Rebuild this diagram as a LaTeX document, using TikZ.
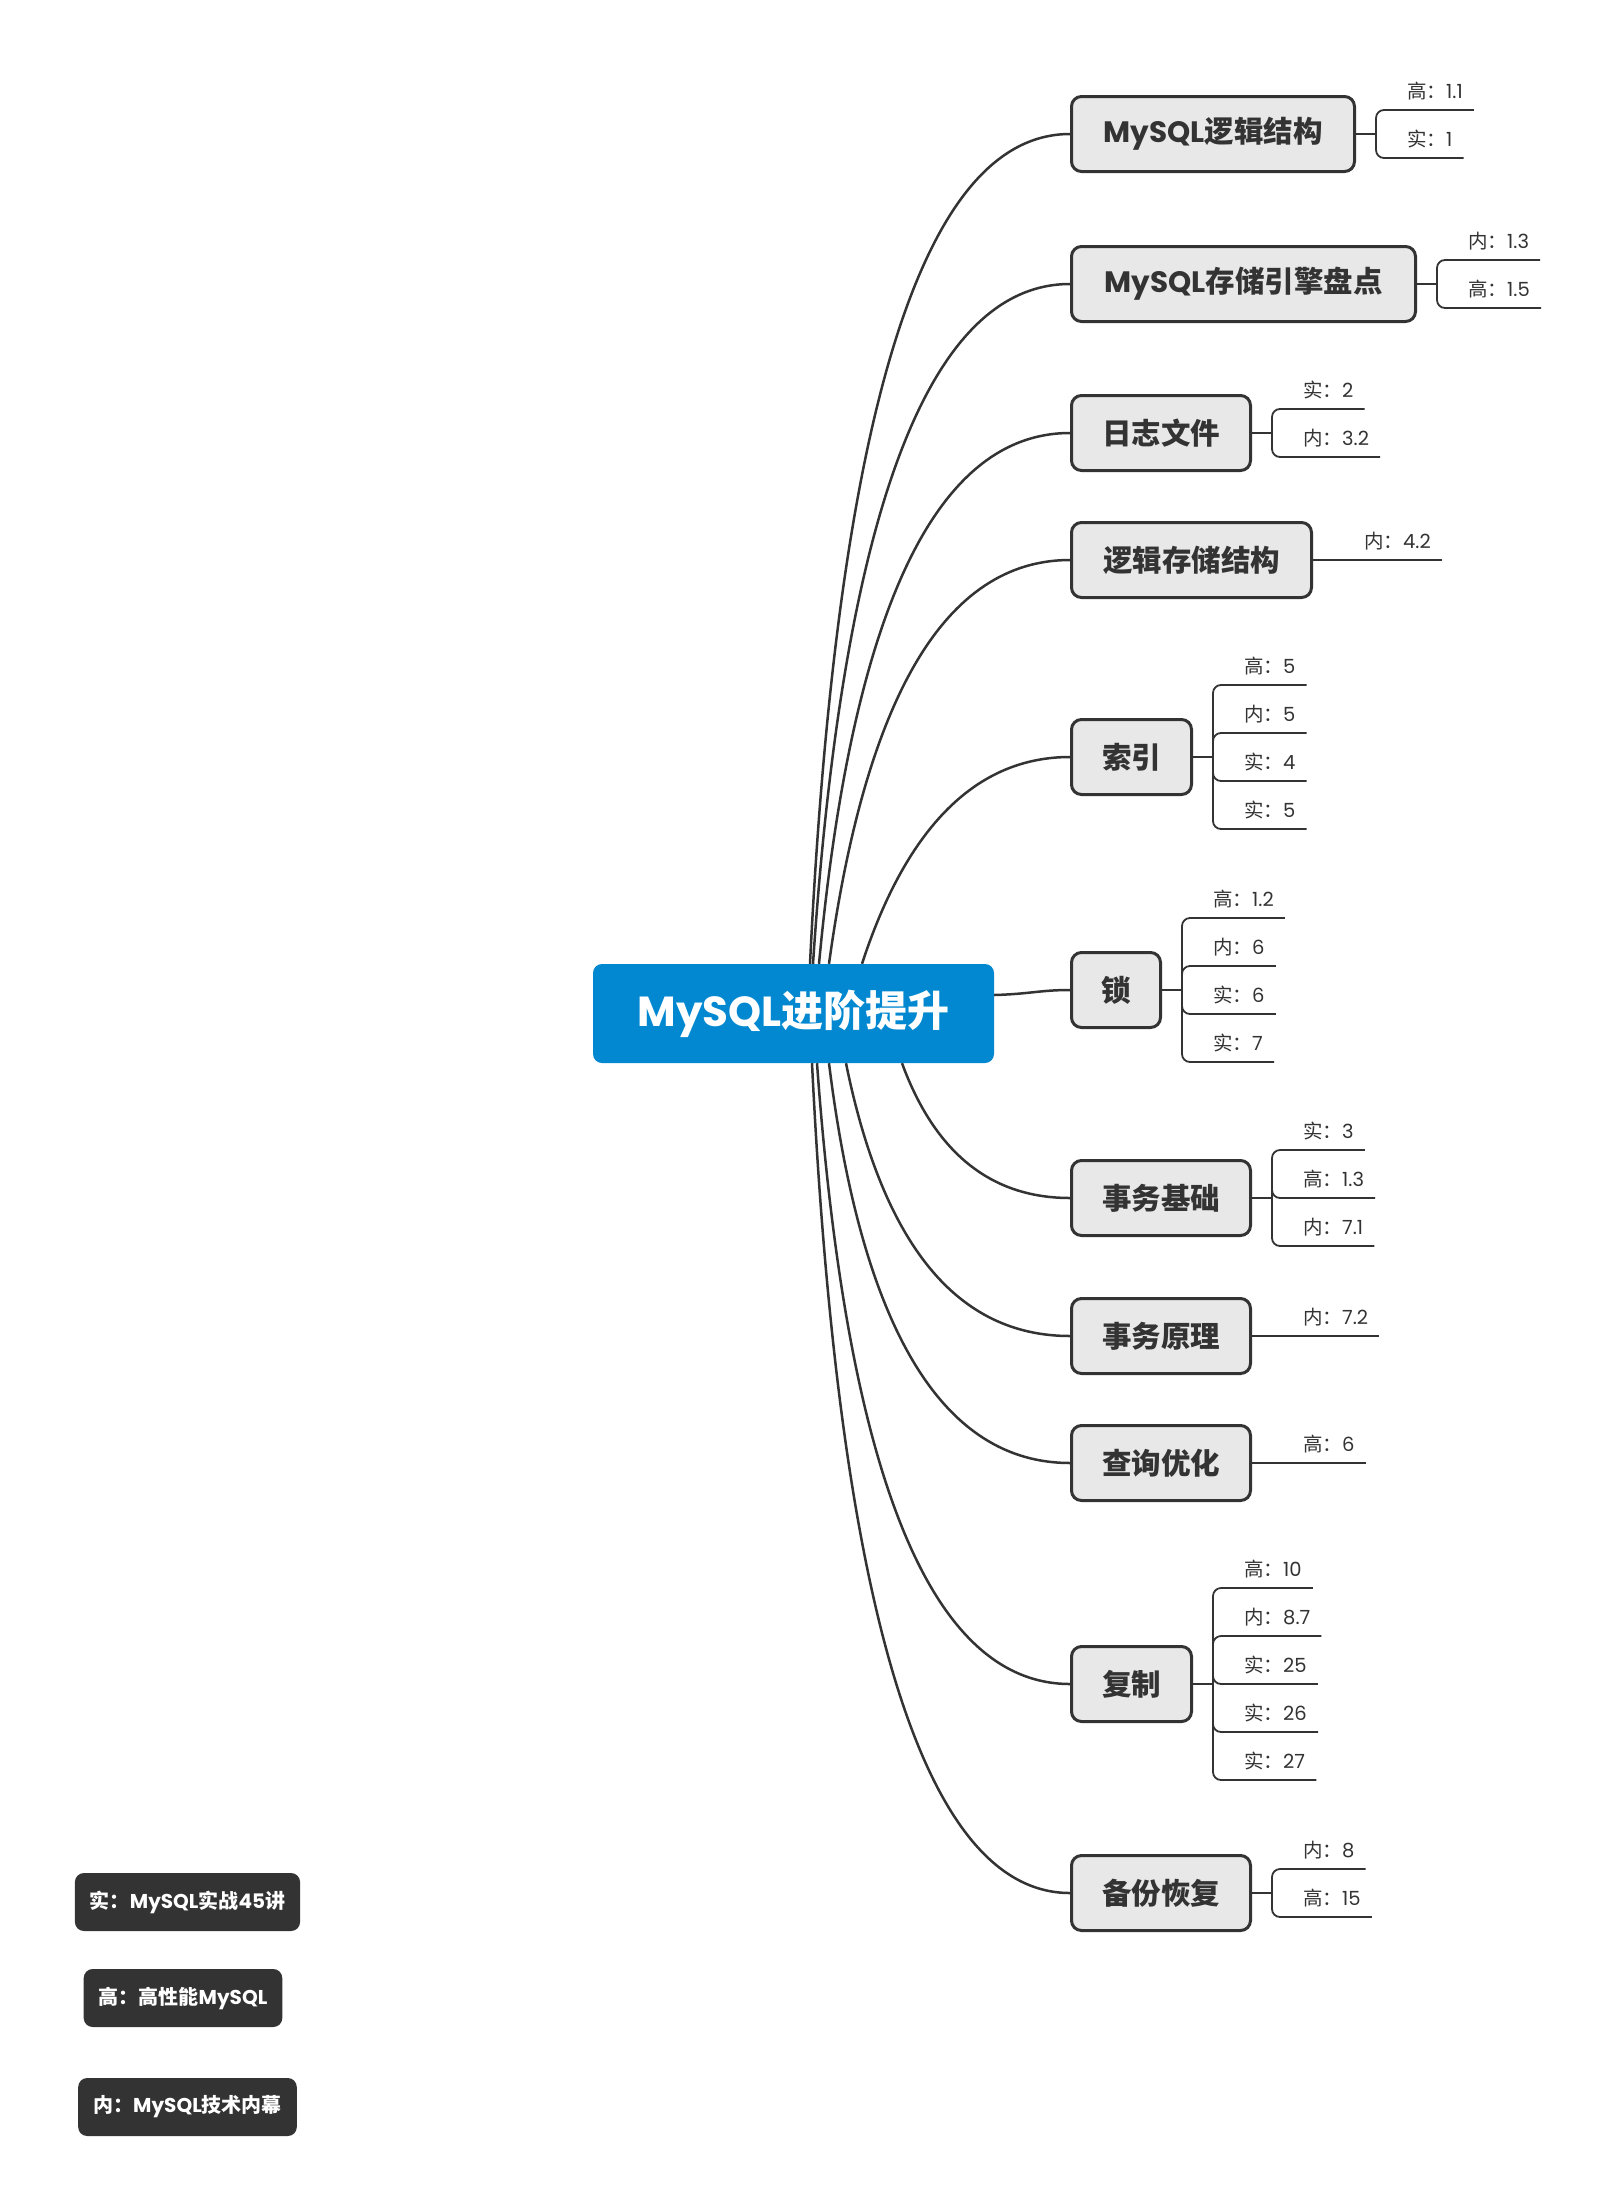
\documentclass[tikz,border=0pt]{standalone}
\usepackage{fontspec}
\setmainfont{Noto Sans CJK SC}
\newfontfamily\enfont{Poppins}
\usetikzlibrary{positioning}
\definecolor{rootblue}{HTML}{0288D1}
\definecolor{ink}{HTML}{333333}
\definecolor{boxgray}{HTML}{E8E8E8}
\tikzset{
  root/.style={fill=rootblue, text=white, rounded corners=9pt, minimum width=401pt, minimum height=99pt, font=\fontsize{42}{50}\selectfont\bfseries},
  topic/.style={draw=ink, fill=boxgray, line width=3pt, rounded corners=10pt, text=ink, anchor=west, minimum height=75pt, inner xsep=20pt, font=\fontsize{29.5}{35}\selectfont\bfseries},
  leaf/.style={text=ink, inner xsep=11pt, inner ysep=0pt, text height=16pt, text depth=11pt, font=\fontsize{19.5}{23}\selectfont},
  link/.style={draw=ink, line width=2.5pt},
  twig/.style={draw=ink, line width=1.8pt, rounded corners=8pt},
  legend/.style={fill=ink, text=white, rounded corners=9pt, minimum height=58pt, inner xsep=15pt, font=\fontsize{20}{24}\selectfont\bfseries},
}

\begin{document}
\begin{tikzpicture}[x=1pt, y=-1pt]
		\fill[white] (0,0) rectangle (1614,2211);
		\useasboundingbox (0,0) rectangle (1614,2211);

		\node[root] (root) at (793.5,1013.5) {{\enfont MySQL}进阶提升};

		\node[topic, minimum width=283pt] (b1) at (1070,134) {{\enfont MySQL}逻辑结构};
		\node[topic, minimum width=344pt] (b2) at (1070,284) {{\enfont MySQL}存储引擎盘点};
		\node[topic, minimum width=179pt] (b3) at (1070,433) {日志文件};
		\node[topic, minimum width=240pt] (b4) at (1070,560) {逻辑存储结构};
		\node[topic, minimum width=120pt] (b5) at (1070,757) {索引};
		\node[topic, minimum width=89pt] (b6) at (1070,990) {锁};
		\node[topic, minimum width=179pt] (b7) at (1070,1198) {事务基础};
		\node[topic, minimum width=179pt] (b8) at (1070,1336) {事务原理};
		\node[topic, minimum width=179pt] (b9) at (1070,1463) {查询优化};
		\node[topic, minimum width=120pt] (b10) at (1070,1684) {复制};
		\node[topic, minimum width=179pt] (b11) at (1070,1893) {备份恢复};

		\draw[link] (root.north -| 810,0) .. controls (837,411) and (923,134) .. (b1.west);
		\draw[link] (root.north -| 813,0) .. controls (843,511) and (929,284) .. (b2.west);
		\draw[link] (root.north -| 819,0) .. controls (852,610) and (936,433) .. (b3.west);
		\draw[link] (root.north -| 829,0) .. controls (866,695) and (946,560) .. (b4.west);
		\draw[link] (root.north -| 862,0) .. controls (907,826) and (977,757) .. (b5.west);
		\draw[link] (root.east |- 0,995) .. controls (1030,994) and (1040,990) .. (b6.west);
		\draw[link] (root.south -| 902,0) .. controls (935,1153) and (991,1198) .. (b7.west);
		\draw[link] (root.south -| 846,0) .. controls (883,1245) and (957,1336) .. (b8.west);
		\draw[link] (root.south -| 829,0) .. controls (862,1330) and (943,1463) .. (b9.west);
		\draw[link] (root.south -| 817,0) .. controls (847,1477) and (931,1684) .. (b10.west);
		\draw[link] (root.south -| 812,0) .. controls (839,1616) and (925,1893) .. (b11.west);

		\coordinate[right=20pt of b1] (j1);
		\node[leaf, above right=24pt and 20pt of j1] (l1a) {高：{\enfont 1.1}};
		\node[leaf, above right=-24pt and 20pt of j1] (l1b) {实：{\enfont 1}};
		\draw[twig] (b1.east) -- (j1);
		\draw[twig] (j1) |- (l1a.south east);
		\draw[twig] (j1) |- (l1b.south east);

		\coordinate[right=20pt of b2] (j2);
		\node[leaf, above right=24pt and 20pt of j2] (l2a) {内：{\enfont 1.3}};
		\node[leaf, above right=-24pt and 20pt of j2] (l2b) {高：{\enfont 1.5}};
		\draw[twig] (b2.east) -- (j2);
		\draw[twig] (j2) |- (l2a.south east);
		\draw[twig] (j2) |- (l2b.south east);

		\coordinate[right=20pt of b3] (j3);
		\node[leaf, above right=24pt and 20pt of j3] (l3a) {实：{\enfont 2}};
		\node[leaf, above right=-24pt and 20pt of j3] (l3b) {内：{\enfont 3.2}};
		\draw[twig] (b3.east) -- (j3);
		\draw[twig] (j3) |- (l3a.south east);
		\draw[twig] (j3) |- (l3b.south east);

		\coordinate[right=20pt of b4] (j4);
		\node[leaf, above right=0pt and 20pt of j4] (l4a) {内：{\enfont 4.2}};
		\draw[twig] (b4.east) -- (l4a.south east);

		\coordinate[right=20pt of b5] (j5);
		\node[leaf, above right=72pt and 20pt of j5] (l5a) {高：{\enfont 5}};
		\node[leaf, above right=24pt and 20pt of j5] (l5b) {内：{\enfont 5}};
		\node[leaf, above right=-24pt and 20pt of j5] (l5c) {实：{\enfont 4}};
		\node[leaf, above right=-72pt and 20pt of j5] (l5d) {实：{\enfont 5}};
		\draw[twig] (b5.east) -- (j5);
		\draw[twig] (j5) |- (l5a.south east);
		\draw[twig] (j5) |- (l5b.south east);
		\draw[twig] (j5) |- (l5c.south east);
		\draw[twig] (j5) |- (l5d.south east);

		\coordinate[right=20pt of b6] (j6);
		\node[leaf, above right=72pt and 20pt of j6] (l6a) {高：{\enfont 1.2}};
		\node[leaf, above right=24pt and 20pt of j6] (l6b) {内：{\enfont 6}};
		\node[leaf, above right=-24pt and 20pt of j6] (l6c) {实：{\enfont 6}};
		\node[leaf, above right=-72pt and 20pt of j6] (l6d) {实：{\enfont 7}};
		\draw[twig] (b6.east) -- (j6);
		\draw[twig] (j6) |- (l6a.south east);
		\draw[twig] (j6) |- (l6b.south east);
		\draw[twig] (j6) |- (l6c.south east);
		\draw[twig] (j6) |- (l6d.south east);

		\coordinate[right=20pt of b7] (j7);
		\node[leaf, above right=48pt and 20pt of j7] (l7a) {实：{\enfont 3}};
		\node[leaf, above right=0pt and 20pt of j7] (l7b) {高：{\enfont 1.3}};
		\node[leaf, above right=-48pt and 20pt of j7] (l7c) {内：{\enfont 7.1}};
		\draw[twig] (b7.east) -- (j7);
		\draw[twig] (j7) |- (l7a.south east);
		\draw[twig] (j7) |- (l7b.south east);
		\draw[twig] (j7) |- (l7c.south east);

		\coordinate[right=20pt of b8] (j8);
		\node[leaf, above right=0pt and 20pt of j8] (l8a) {内：{\enfont 7.2}};
		\draw[twig] (b8.east) -- (l8a.south east);

		\coordinate[right=20pt of b9] (j9);
		\node[leaf, above right=0pt and 20pt of j9] (l9a) {高：{\enfont 6}};
		\draw[twig] (b9.east) -- (l9a.south east);

		\coordinate[right=20pt of b10] (j10);
		\node[leaf, above right=96pt and 20pt of j10] (l10a) {高：{\enfont 10}};
		\node[leaf, above right=48pt and 20pt of j10] (l10b) {内：{\enfont 8.7}};
		\node[leaf, above right=0pt and 20pt of j10] (l10c) {实：{\enfont 25}};
		\node[leaf, above right=-48pt and 20pt of j10] (l10d) {实：{\enfont 26}};
		\node[leaf, above right=-96pt and 20pt of j10] (l10e) {实：{\enfont 27}};
		\draw[twig] (b10.east) -- (j10);
		\draw[twig] (j10) |- (l10a.south east);
		\draw[twig] (j10) |- (l10b.south east);
		\draw[twig] (j10) |- (l10c.south east);
		\draw[twig] (j10) |- (l10d.south east);
		\draw[twig] (j10) |- (l10e.south east);

		\coordinate[right=20pt of b11] (j11);
		\node[leaf, above right=24pt and 20pt of j11] (l11a) {内：{\enfont 8}};
		\node[leaf, above right=-24pt and 20pt of j11] (l11b) {高：{\enfont 15}};
		\draw[twig] (b11.east) -- (j11);
		\draw[twig] (j11) |- (l11a.south east);
		\draw[twig] (j11) |- (l11b.south east);

		\node[legend] (k1) at (187.5,1902) {实：{\enfont MySQL}实战{\enfont 45}讲};
		\node[legend] (k2) at (183,1998) {高：高性能{\enfont MySQL}};
		\node[legend] (k3) at (187.5,2107) {内：{\enfont MySQL}技术内幕};
\end{tikzpicture}
\end{document}
